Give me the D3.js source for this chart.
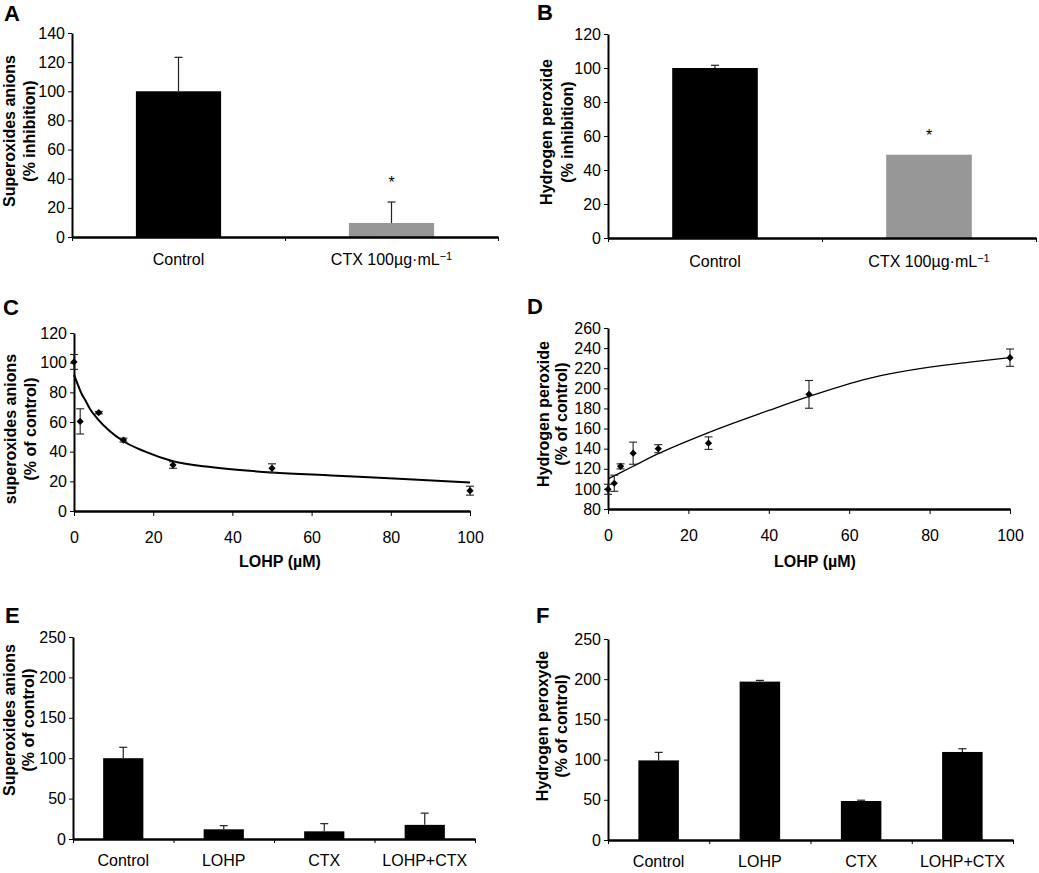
<!DOCTYPE html>
<html>
<head>
<meta charset="utf-8">
<script src="https://cdn.jsdelivr.net/npm/d3@7"></script>
<style>
body { margin: 0; background: #fff; }
svg text { font-family: "Liberation Sans", Arial, sans-serif; fill: #000; }
</style>
</head>
<body>
<svg id="fig" width="1039" height="873"></svg>
<script>
// ---- data ----
var catsAB = ["Control", "CTX 100µg·mL"];
var supAB = ["", "−1"];
var supInhibA = [100, 9.6];
var supInhibErrA = [23.3, 14.4];
var h2o2InhibB = [100, 49];
var h2o2InhibErrB = [1.6, 0];
var starAB = [false, true];

var dosesC = [0, 1.5625, 6.25, 12.5, 25, 50, 100];
var supC = [100.5, 60.4, 66.3, 47.8, 31, 28.8, 13.7];
var supErrC = [5, 8.5, 0.8, 1.3, 2.2, 3, 3];
var fitXC = [0, 1, 2, 2.8, 4, 6, 9, 12.5, 18, 25, 35, 50, 65, 82, 100];
var fitYC = [92, 85, 78.5, 75, 69, 62, 54, 47, 40, 33.5, 29.5, 26, 24, 21.8, 19.2];

var dosesD = [0, 1.5625, 3.125, 6.25, 12.5, 25, 50, 100];
var h2o2D = [99.6, 105.6, 122.4, 135.5, 140, 145.5, 194, 230.5];
var h2o2ErrD = [5, 8, 2.5, 11, 4, 6.2, 13.8, 8.6];
var fitXD = [0, 6, 12.5, 25, 40, 50, 65, 80, 90, 100];
var fitYD = [110, 122, 135, 156, 178, 192, 210, 221, 226, 230.5];

var catsEF = ["Control", "LOHP", "CTX", "LOHP+CTX"];
var supE = [100, 12, 9.5, 17.5];
var supErrE = [13.5, 4.5, 9.5, 14.5];
var h2o2F = [99, 197, 48.5, 109.5];
var h2o2ErrF = [10, 1.5, 1, 4];

var ticksAB_A = [0, 20, 40, 60, 80, 100, 120, 140];
var ticksAB_B = [0, 20, 40, 60, 80, 100, 120];
var ticksC = [0, 20, 40, 60, 80, 100, 120];
var ticksD = [80, 100, 120, 140, 160, 180, 200, 220, 240, 260];
var ticksEF = [0, 50, 100, 150, 200, 250];
var ticksDose = [0, 20, 40, 60, 80, 100];

var svg = d3.select("#fig");

function styleAxis(g, domainWidth) {
    g.selectAll("text").attr("font-size", 16).attr("font-family", null);
    g.selectAll(".tick line").attr("stroke", "#000").attr("stroke-width", 1);
    g.select(".domain").attr("stroke", "#000").attr("stroke-width", domainWidth);
}

function titles(opt) {
    svg.append("text")
        .attr("x", opt.letter[0]).attr("y", opt.letter[1])
        .attr("font-size", 22).attr("font-weight", "bold")
        .text(opt.name);
    opt.ytitle.forEach(function (t, i) {
        svg.append("text")
            .attr("transform", "translate(" + opt.ytx[i] + "," + opt.tyc + ") rotate(-90)")
            .attr("text-anchor", "middle")
            .attr("font-size", 16).attr("font-weight", "bold")
            .text(t);
    });
}

function yAxis(y, x0, ticks) {
    var g = svg.append("g")
        .attr("transform", "translate(" + x0 + ",0)")
        .call(d3.axisLeft(y).tickValues(ticks).tickSize(4).tickPadding(3).tickSizeOuter(0));
    styleAxis(g, 2);
}

function barPanel(opt) {
    var x = d3.scaleBand().domain(opt.cats).range(opt.xr);
    var edge = d3.scaleLinear().domain([0, opt.cats.length]).range(opt.xr);
    var y = d3.scaleLinear().domain(opt.yd).range(opt.yr);
    var bw = x.bandwidth() * 0.4;

    var gb = svg.append("g");
    gb.selectAll("rect")
        .data(opt.values)
        .enter()
        .append("rect")
        .attr("x", function (d, i) { return x(opt.cats[i]) + (x.bandwidth() - bw) / 2; })
        .attr("y", function (d) { return y(d); })
        .attr("width", bw)
        .attr("height", function (d) { return y(opt.yd[0]) - y(d); })
        .attr("fill", function (d, i) { return opt.colors[i]; });

    // one-sided error bars
    opt.values.forEach(function (v, i) {
        var e = opt.errs[i];
        if (!e) return;
        var cx = x(opt.cats[i]) + x.bandwidth() / 2;
        gb.append("line").attr("x1", cx).attr("x2", cx)
            .attr("y1", y(v)).attr("y2", y(v + e))
            .attr("stroke", "#222").attr("stroke-width", 1.2);
        gb.append("line").attr("x1", cx - 4).attr("x2", cx + 4)
            .attr("y1", y(v + e)).attr("y2", y(v + e))
            .attr("stroke", "#222").attr("stroke-width", 1.2);
    });

    if (opt.stars) {
        opt.values.forEach(function (v, i) {
            if (!opt.stars[i]) return;
            var cx = x(opt.cats[i]) + x.bandwidth() / 2;
            svg.append("text")
                .attr("x", cx).attr("y", y(v + opt.errs[i]) - 14)
                .attr("text-anchor", "middle").attr("font-size", 16)
                .text("*");
        });
    }

    yAxis(y, opt.xr[0], opt.ticks);

    var base = y(opt.yd[0]);
    // boundary ticks + axis line
    var ge = svg.append("g")
        .attr("transform", "translate(0," + base + ")")
        .call(d3.axisBottom(edge).ticks(opt.cats.length).tickFormat("").tickSize(4).tickSizeOuter(0));
    styleAxis(ge, 2.5);

    var gl = svg.append("g")
        .attr("transform", "translate(0," + base + ")")
        .call(d3.axisBottom(x).tickSize(0).tickPadding(opt.labelPad));
    gl.select(".domain").remove();
    gl.selectAll("text").attr("font-size", 16).attr("font-family", null);
    if (opt.sups) {
        gl.selectAll(".tick text").each(function (d, i) {
            if (opt.sups[i]) {
                d3.select(this).append("tspan")
                    .attr("dy", "-0.45em").attr("font-size", 11)
                    .text(opt.sups[i]);
            }
        });
    }
    titles(opt);
}

function dosePanel(opt) {
    var x = d3.scaleLinear().domain([0, 100]).range(opt.xr);
    var y = d3.scaleLinear().domain(opt.yd).range(opt.yr);

    yAxis(y, opt.xr[0], opt.ticks);
    var gx = svg.append("g")
        .attr("transform", "translate(0," + opt.yr[0] + ")")
        .call(d3.axisBottom(x).tickValues(ticksDose).tickSize(5).tickPadding(16).tickSizeOuter(0));
    styleAxis(gx, 2.5);

    var line = d3.line()
        .x(function (d) { return x(d[0]); })
        .y(function (d) { return y(d[1]); })
        .curve(d3.curveMonotoneX);
    svg.append("path")
        .datum(d3.zip(opt.fitX, opt.fitY))
        .attr("d", line)
        .attr("fill", "none")
        .attr("stroke", "#000")
        .attr("stroke-width", opt.lineW);

    var gp = svg.append("g");
    opt.doses.forEach(function (dose, i) {
        var cx = x(dose), v = opt.values[i], e = opt.errs[i];
        gp.append("line").attr("x1", cx).attr("x2", cx)
            .attr("y1", y(v - e)).attr("y2", y(v + e))
            .attr("stroke", "#222").attr("stroke-width", 1.1);
        [v - e, v + e].forEach(function (ev) {
            gp.append("line").attr("x1", cx - 4).attr("x2", cx + 4)
                .attr("y1", y(ev)).attr("y2", y(ev))
                .attr("stroke", "#222").attr("stroke-width", 1.1);
        });
        gp.append("path")
            .attr("d", d3.symbol(d3.symbolSquare, 26)())
            .attr("transform", "translate(" + cx + "," + y(v) + ") rotate(45)")
            .attr("fill", "#000");
    });

    svg.append("text")
        .attr("x", opt.xtitleX).attr("y", opt.xtitleY)
        .attr("text-anchor", "middle")
        .attr("font-size", 16).attr("font-weight", "bold")
        .text("LOHP (µM)");
    titles(opt);
}

barPanel({
    name: "A", letter: [4, 21],
    cats: catsAB, sups: supAB, values: supInhibA, errs: supInhibErrA, stars: starAB,
    colors: ["#000", "#979797"],
    xr: [72, 498], yd: [0, 140], yr: [237, 33], ticks: ticksAB_A, labelPad: 17,
    ytitle: ["Superoxides anions", "(% inhibition)"], ytx: [15, 35], tyc: 131
});

barPanel({
    name: "B", letter: [537, 20],
    cats: catsAB, sups: supAB, values: h2o2InhibB, errs: h2o2InhibErrB, stars: starAB,
    colors: ["#000", "#979797"],
    xr: [608, 1036], yd: [0, 120], yr: [238, 34], ticks: ticksAB_B, labelPad: 18,
    ytitle: ["Hydrogen peroxide", "(% inhibition)"], ytx: [552, 573], tyc: 132
});

dosePanel({
    name: "C", letter: [3, 315],
    doses: dosesC, values: supC, errs: supErrC, fitX: fitXC, fitY: fitYC, lineW: 2,
    xr: [74, 470], yd: [0, 120], yr: [511, 333], ticks: ticksC,
    xtitleX: 280, xtitleY: 567,
    ytitle: ["superoxides anions", "(% of control)"], ytx: [16, 36], tyc: 429
});

dosePanel({
    name: "D", letter: [527, 314],
    doses: dosesD, values: h2o2D, errs: h2o2ErrD, fitX: fitXD, fitY: fitYD, lineW: 1.3,
    xr: [608, 1010], yd: [80, 260], yr: [509, 328], ticks: ticksD,
    xtitleX: 815, xtitleY: 567,
    ytitle: ["Hydrogen peroxide", "(% of control)"], ytx: [549, 567], tyc: 414
});

barPanel({
    name: "E", letter: [5, 623],
    cats: catsEF, values: supE, errs: supErrE,
    colors: ["#000", "#000", "#000", "#000"],
    xr: [73, 475], yd: [0, 250], yr: [839, 637], ticks: ticksEF, labelPad: 16,
    ytitle: ["Superoxides anions", "(% of control)"], ytx: [15, 34], tyc: 720
});

barPanel({
    name: "F", letter: [536, 623],
    cats: catsEF, values: h2o2F, errs: h2o2ErrF,
    colors: ["#000", "#000", "#000", "#000"],
    xr: [608, 1013], yd: [0, 250], yr: [840, 639], ticks: ticksEF, labelPad: 16,
    ytitle: ["Hydrogen peroxyde", "(% of control)"], ytx: [548, 567], tyc: 726
});
</script>
</body>
</html>
